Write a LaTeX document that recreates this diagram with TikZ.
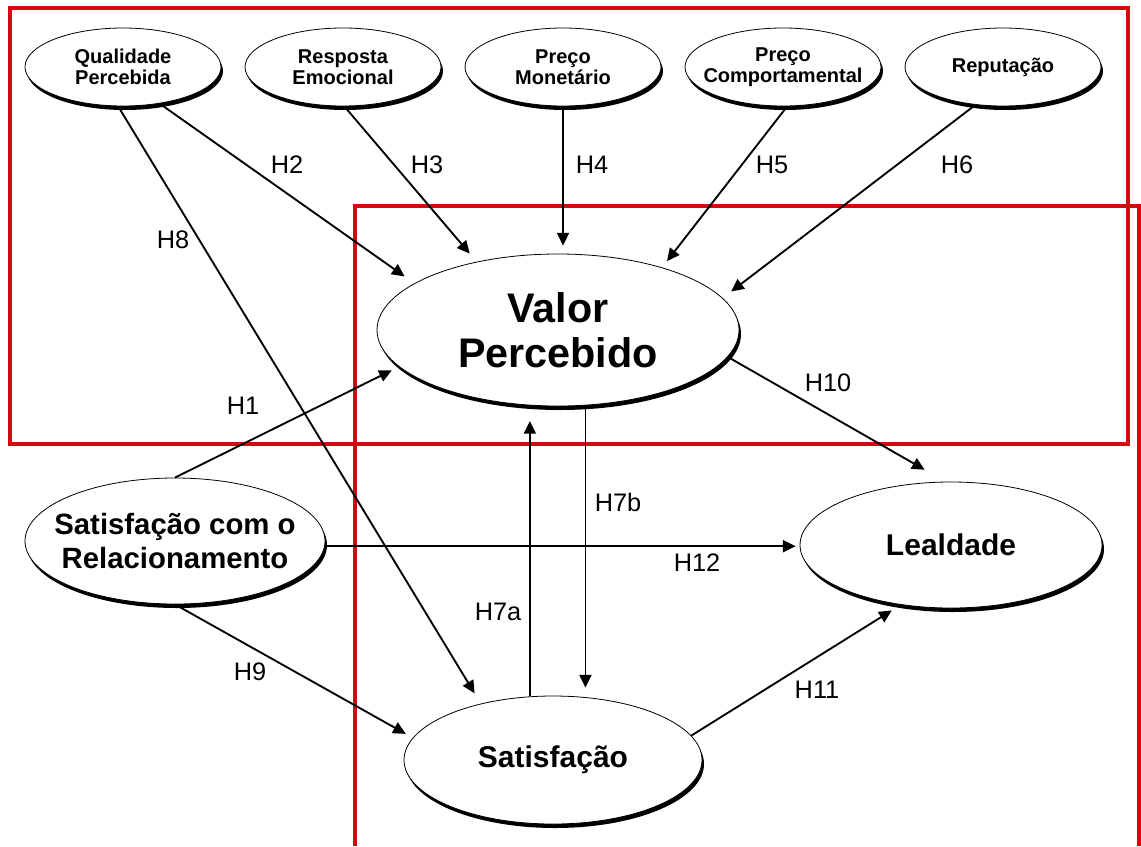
\documentclass[tikz,border=0pt]{standalone}
\usepackage{fontspec}
\setmainfont{Liberation Sans}
\usetikzlibrary{shapes.geometric, arrows.meta, shadows}
\definecolor{framered}{RGB}{212,8,16}

\begin{document}
\begin{tikzpicture}[x=0.75pt, y=-0.75pt,
        construct/.style={ellipse, draw, line width=0.6pt, fill=white, inner sep=-20pt, align=center,
            drop shadow={shadow xshift=1.5pt, shadow yshift=-3pt, opacity=1, fill=black}},
        small/.style={construct, minimum width=147pt, minimum height=58.5pt, font=\fontsize{15}{15.5}\selectfont\bfseries},
        hyp/.style={font=\fontsize{19}{22}\selectfont},
        link/.style={-{Triangle[length=9.5pt,width=9pt]}, line width=1.4pt, shorten >=6pt},
        frame/.style={draw=framered, line width=2.7pt}]

        \useasboundingbox (0,0) rectangle (1141,846);

        \draw[frame] (10,8) rectangle (1128,444);
        \draw[frame] (355,846) -- (355,206) -- (1139,206) -- (1139,846);

        \node[small] (qp) at (123,67) {Qualidade\\Percebida};
        \node[small] (re) at (343,67) {Resposta\\Emocional};
        \node[small] (pm) at (563,67) {Preço\\Monetário};
        \node[small] (pc) at (783,67) {Preço\\Comportamental};
        \node[small] (rep) at (1003,67) {Reputação};

        \node[construct, minimum width=271.5pt, minimum height=114pt, font=\fontsize{31}{34}\selectfont\bfseries] (vp) at (558,330) {Valor\\Percebido};
        \node[construct, minimum width=225pt, minimum height=94.5pt, font=\fontsize{22}{25}\selectfont\bfseries] (scr) at (175,541) {Satisfação com o\\Relacionamento};
        \node[construct, minimum width=226.5pt, minimum height=94.5pt, font=\fontsize{22.5}{25}\selectfont\bfseries] (leal) at (951,545) {Lealdade};
        \node[construct, minimum width=223.5pt, minimum height=96pt, font=\fontsize{22.5}{25}\selectfont\bfseries] (sat) at (553,760) {Satisfação};

        \draw[link] (scr.north) -- (vp.193);
        \draw[link, shorten >=9pt] (qp.-45) -- (vp.162);
        \draw[link, shorten >=8pt] (re.-88) -- (vp.140);
        \draw[link] (pm.south) -- (pm.south |- vp.north);
        \draw[link] (pc.-84) -- (vp.31);
        \draw[link, shorten >=8pt] (rep.-126) -- (vp.11);
        \draw[link, shorten >=11pt] (sat.110) -- (sat.110 |- vp.south);
        \draw[link] (vp.-70) -- (vp.-70 |- sat.north);
        \draw[link, shorten >=9pt] (qp.-97) -- (sat.142);
        \draw[link] (scr.south) -- (sat.171);
        \draw[link, shorten >=18pt] (vp.-9) -- (leal.95);
        \draw[link, shorten >=8pt] (sat.10) -- (leal.-130);
        \draw[link, shorten >=3pt] (scr.-2) -- (scr.-2 -| leal.west);

        \node[hyp] (h1) at (243,406) {H1};
        \node[hyp] (h2) at (287,165) {H2};
        \node[hyp] (h3) at (427,165) {H3};
        \node[hyp] (h4) at (592,165) {H4};
        \node[hyp] (h5) at (772,165) {H5};
        \node[hyp] (h6) at (957,165) {H6};
        \node[hyp] (h7a) at (498,612) {H7a};
        \node[hyp] (h7b) at (618,502) {H7b};
        \node[hyp] (h8) at (173,240) {H8};
        \node[hyp] (h9) at (250,672) {H9};
        \node[hyp] (h10) at (828,383) {H10};
        \node[hyp] (h11) at (817,690) {H11};
        \node[hyp] (h12) at (697,563) {H12};

    \end{tikzpicture}
\end{document}
